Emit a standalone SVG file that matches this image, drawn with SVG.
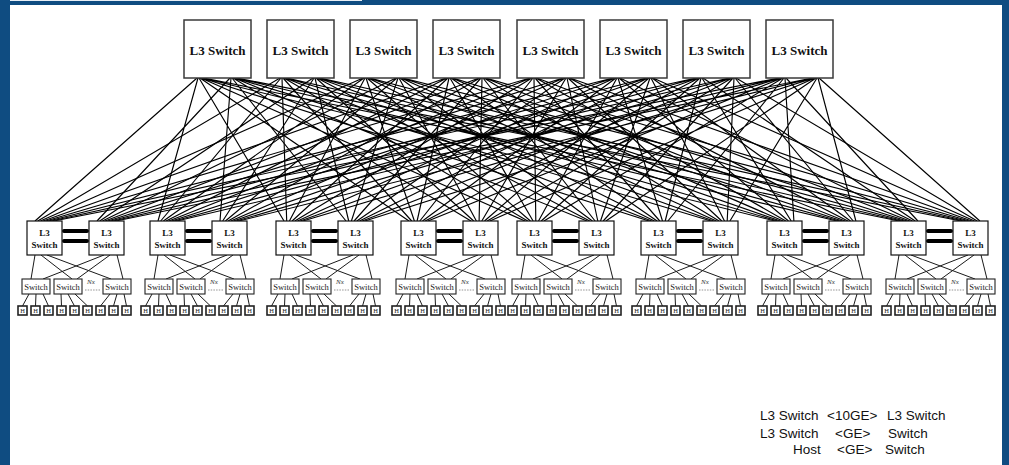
<svg xmlns="http://www.w3.org/2000/svg" xmlns:xlink="http://www.w3.org/1999/xlink" width="1009" height="465" viewBox="0 0 1009 465">
<style>
.tb{fill:#fff;stroke:#3a3a3a;stroke-width:1.5}
.tt{font-family:"Liberation Serif",serif;font-weight:bold;font-size:13px;fill:#111;text-anchor:middle}
.pb{fill:#fff;stroke:#111;stroke-width:1.2}
.pt{font-family:"Liberation Serif",serif;font-weight:bold;font-size:9px;fill:#111;text-anchor:middle}
.sb{fill:#fff;stroke:#222;stroke-width:1.1}
.st{font-family:"Liberation Serif",serif;font-size:8.5px;fill:#222;text-anchor:middle}
.hb{fill:#fff;stroke:#222;stroke-width:1.6}
.ht{font-family:"Liberation Serif",serif;font-size:6.5px;fill:#222;text-anchor:middle}
.nx{font-family:"Liberation Serif",serif;font-style:italic;font-size:7px;fill:#333}
.dash{stroke:#666;stroke-width:0.7;stroke-dasharray:1.5 1.2}
.mesh{fill:none;stroke:#000;stroke-width:1.15}
.pl{fill:none;stroke:#1a1a1a;stroke-width:1}
.bar{fill:none;stroke:#000;stroke-width:4;stroke-linecap:round}
.lg{font-family:"Liberation Sans",Arial,sans-serif;font-size:13.5px;fill:#111}
</style>
<defs>
<g id="podlinks">
<path class="pl" d="M8 255L4 279M14 255L45 279M20 255L84 279M77 255L16 279M83 255L50 279M90 255L96 279M2 294L-4.5 306M9 294L8.5 306M16 294L21.5 306M34 294L34.5 306M41 294L47.5 306M48 294L60.5 306M83 294L73.5 306M90 294L86.5 306M97 294L99.5 306"/>
<path class="bar" d="M37 231H60M37 241H60"/>
</g>
</defs>
<rect width="1009" height="465" fill="#fff"/>
<g id="frame">
<rect x="0" y="0" width="1009" height="5" fill="#0f4c81"/>
<rect x="10" y="0" width="352" height="1" fill="#e8eef5"/>
<rect x="0" y="0" width="10" height="465" fill="#0f4c81"/>
<rect x="1002" y="0" width="7" height="465" fill="#0f4c81"/>
</g>
<g id="connectors">
<path class="mesh" d="M197 78L35 221M198 78L158 221M199 78L284 221M200 78L409 221M201 78L525 221M202 78L649 221M203 78L775 221M204 78L899 221M230 78L97 221M231 78L220 221M232 78L346 221M233 78L471 221M234 78L587 221M235 78L711 221M236 78L837 221M237 78L961 221"/>
<path class="mesh" d="M280 78L37.7 221M281 78L160.7 221M282 78L286.7 221M283 78L411.7 221M284 78L527.7 221M285 78L651.7 221M286 78L777.7 221M287 78L901.7 221M313 78L99.7 221M314 78L222.7 221M315 78L348.7 221M316 78L473.7 221M317 78L589.7 221M318 78L713.7 221M319 78L839.7 221M320 78L963.7 221"/>
<path class="mesh" d="M363 78L40.4 221M364 78L163.4 221M365 78L289.4 221M366 78L414.4 221M367 78L530.4 221M368 78L654.4 221M369 78L780.4 221M370 78L904.4 221M396 78L102.4 221M397 78L225.4 221M398 78L351.4 221M399 78L476.4 221M400 78L592.4 221M401 78L716.4 221M402 78L842.4 221M403 78L966.4 221"/>
<path class="mesh" d="M446 78L43.1 221M447 78L166.1 221M448 78L292.1 221M449 78L417.1 221M450 78L533.1 221M451 78L657.1 221M452 78L783.1 221M453 78L907.1 221M479 78L105.1 221M480 78L228.1 221M481 78L354.1 221M482 78L479.1 221M483 78L595.1 221M484 78L719.1 221M485 78L845.1 221M486 78L969.1 221"/>
<path class="mesh" d="M530 78L45.8 221M531 78L168.8 221M532 78L294.8 221M533 78L419.8 221M534 78L535.8 221M535 78L659.8 221M536 78L785.8 221M537 78L909.8 221M563 78L107.8 221M564 78L230.8 221M565 78L356.8 221M566 78L481.8 221M567 78L597.8 221M568 78L721.8 221M569 78L847.8 221M570 78L971.8 221"/>
<path class="mesh" d="M613 78L48.5 221M614 78L171.5 221M615 78L297.5 221M616 78L422.5 221M617 78L538.5 221M618 78L662.5 221M619 78L788.5 221M620 78L912.5 221M646 78L110.5 221M647 78L233.5 221M648 78L359.5 221M649 78L484.5 221M650 78L600.5 221M651 78L724.5 221M652 78L850.5 221M653 78L974.5 221"/>
<path class="mesh" d="M696 78L51.2 221M697 78L174.2 221M698 78L300.2 221M699 78L425.2 221M700 78L541.2 221M701 78L665.2 221M702 78L791.2 221M703 78L915.2 221M729 78L113.2 221M730 78L236.2 221M731 78L362.2 221M732 78L487.2 221M733 78L603.2 221M734 78L727.2 221M735 78L853.2 221M736 78L977.2 221"/>
<path class="mesh" d="M779 78L53.9 221M780 78L176.9 221M781 78L302.9 221M782 78L427.9 221M783 78L543.9 221M784 78L667.9 221M785 78L793.9 221M786 78L917.9 221M812 78L115.9 221M813 78L238.9 221M814 78L364.9 221M815 78L489.9 221M816 78L605.9 221M817 78L729.9 221M818 78L855.9 221M819 78L979.9 221"/>
<use xlink:href="#podlinks" href="#podlinks" x="27"/>
<use xlink:href="#podlinks" href="#podlinks" x="150"/>
<use xlink:href="#podlinks" href="#podlinks" x="276"/>
<use xlink:href="#podlinks" href="#podlinks" x="401"/>
<use xlink:href="#podlinks" href="#podlinks" x="517"/>
<use xlink:href="#podlinks" href="#podlinks" x="641"/>
<use xlink:href="#podlinks" href="#podlinks" x="767"/>
<use xlink:href="#podlinks" href="#podlinks" x="891"/>
</g>
<g id="top-switches">
<g id="t1"><rect class="tb" x="184" y="20" width="67" height="58"/><text class="tt" x="217.5" y="55">L3 Switch</text></g>
<g id="t2"><rect class="tb" x="267" y="20" width="67" height="58"/><text class="tt" x="300.5" y="55">L3 Switch</text></g>
<g id="t3"><rect class="tb" x="350" y="20" width="67" height="58"/><text class="tt" x="383.5" y="55">L3 Switch</text></g>
<g id="t4"><rect class="tb" x="433" y="20" width="67" height="58"/><text class="tt" x="466.5" y="55">L3 Switch</text></g>
<g id="t5"><rect class="tb" x="517" y="20" width="67" height="58"/><text class="tt" x="550.5" y="55">L3 Switch</text></g>
<g id="t6"><rect class="tb" x="600" y="20" width="67" height="58"/><text class="tt" x="633.5" y="55">L3 Switch</text></g>
<g id="t7"><rect class="tb" x="683" y="20" width="67" height="58"/><text class="tt" x="716.5" y="55">L3 Switch</text></g>
<g id="t8"><rect class="tb" x="766" y="20" width="67" height="58"/><text class="tt" x="799.5" y="55">L3 Switch</text></g>
</g>
<g id="pod-l3">
<g id="p1a"><rect class="pb" x="27" y="221" width="35" height="34"/><text class="pt" x="44.5" y="236">L3</text><text class="pt" x="44.5" y="248">Switch</text></g>
<g id="p1b"><rect class="pb" x="89" y="221" width="35" height="34"/><text class="pt" x="106.5" y="236">L3</text><text class="pt" x="106.5" y="248">Switch</text></g>
<g id="p2a"><rect class="pb" x="150" y="221" width="35" height="34"/><text class="pt" x="167.5" y="236">L3</text><text class="pt" x="167.5" y="248">Switch</text></g>
<g id="p2b"><rect class="pb" x="212" y="221" width="35" height="34"/><text class="pt" x="229.5" y="236">L3</text><text class="pt" x="229.5" y="248">Switch</text></g>
<g id="p3a"><rect class="pb" x="276" y="221" width="35" height="34"/><text class="pt" x="293.5" y="236">L3</text><text class="pt" x="293.5" y="248">Switch</text></g>
<g id="p3b"><rect class="pb" x="338" y="221" width="35" height="34"/><text class="pt" x="355.5" y="236">L3</text><text class="pt" x="355.5" y="248">Switch</text></g>
<g id="p4a"><rect class="pb" x="401" y="221" width="35" height="34"/><text class="pt" x="418.5" y="236">L3</text><text class="pt" x="418.5" y="248">Switch</text></g>
<g id="p4b"><rect class="pb" x="463" y="221" width="35" height="34"/><text class="pt" x="480.5" y="236">L3</text><text class="pt" x="480.5" y="248">Switch</text></g>
<g id="p5a"><rect class="pb" x="517" y="221" width="35" height="34"/><text class="pt" x="534.5" y="236">L3</text><text class="pt" x="534.5" y="248">Switch</text></g>
<g id="p5b"><rect class="pb" x="579" y="221" width="35" height="34"/><text class="pt" x="596.5" y="236">L3</text><text class="pt" x="596.5" y="248">Switch</text></g>
<g id="p6a"><rect class="pb" x="641" y="221" width="35" height="34"/><text class="pt" x="658.5" y="236">L3</text><text class="pt" x="658.5" y="248">Switch</text></g>
<g id="p6b"><rect class="pb" x="703" y="221" width="35" height="34"/><text class="pt" x="720.5" y="236">L3</text><text class="pt" x="720.5" y="248">Switch</text></g>
<g id="p7a"><rect class="pb" x="767" y="221" width="35" height="34"/><text class="pt" x="784.5" y="236">L3</text><text class="pt" x="784.5" y="248">Switch</text></g>
<g id="p7b"><rect class="pb" x="829" y="221" width="35" height="34"/><text class="pt" x="846.5" y="236">L3</text><text class="pt" x="846.5" y="248">Switch</text></g>
<g id="p8a"><rect class="pb" x="891" y="221" width="35" height="34"/><text class="pt" x="908.5" y="236">L3</text><text class="pt" x="908.5" y="248">Switch</text></g>
<g id="p8b"><rect class="pb" x="953" y="221" width="35" height="34"/><text class="pt" x="970.5" y="236">L3</text><text class="pt" x="970.5" y="248">Switch</text></g>
</g>
<g id="access-switches">
<g id="s1-1"><rect class="sb" x="22" y="279" width="28" height="15"/><text class="st" x="36" y="290">Switch</text></g>
<g id="s1-2"><rect class="sb" x="54" y="279" width="28" height="15"/><text class="st" x="68" y="290">Switch</text></g>
<g id="s1-n"><rect class="sb" x="103" y="279" width="28" height="15"/><text class="st" x="117" y="290">Switch</text></g>
<g id="s2-1"><rect class="sb" x="145" y="279" width="28" height="15"/><text class="st" x="159" y="290">Switch</text></g>
<g id="s2-2"><rect class="sb" x="177" y="279" width="28" height="15"/><text class="st" x="191" y="290">Switch</text></g>
<g id="s2-n"><rect class="sb" x="226" y="279" width="28" height="15"/><text class="st" x="240" y="290">Switch</text></g>
<g id="s3-1"><rect class="sb" x="271" y="279" width="28" height="15"/><text class="st" x="285" y="290">Switch</text></g>
<g id="s3-2"><rect class="sb" x="303" y="279" width="28" height="15"/><text class="st" x="317" y="290">Switch</text></g>
<g id="s3-n"><rect class="sb" x="352" y="279" width="28" height="15"/><text class="st" x="366" y="290">Switch</text></g>
<g id="s4-1"><rect class="sb" x="396" y="279" width="28" height="15"/><text class="st" x="410" y="290">Switch</text></g>
<g id="s4-2"><rect class="sb" x="428" y="279" width="28" height="15"/><text class="st" x="442" y="290">Switch</text></g>
<g id="s4-n"><rect class="sb" x="477" y="279" width="28" height="15"/><text class="st" x="491" y="290">Switch</text></g>
<g id="s5-1"><rect class="sb" x="512" y="279" width="28" height="15"/><text class="st" x="526" y="290">Switch</text></g>
<g id="s5-2"><rect class="sb" x="544" y="279" width="28" height="15"/><text class="st" x="558" y="290">Switch</text></g>
<g id="s5-n"><rect class="sb" x="593" y="279" width="28" height="15"/><text class="st" x="607" y="290">Switch</text></g>
<g id="s6-1"><rect class="sb" x="636" y="279" width="28" height="15"/><text class="st" x="650" y="290">Switch</text></g>
<g id="s6-2"><rect class="sb" x="668" y="279" width="28" height="15"/><text class="st" x="682" y="290">Switch</text></g>
<g id="s6-n"><rect class="sb" x="717" y="279" width="28" height="15"/><text class="st" x="731" y="290">Switch</text></g>
<g id="s7-1"><rect class="sb" x="762" y="279" width="28" height="15"/><text class="st" x="776" y="290">Switch</text></g>
<g id="s7-2"><rect class="sb" x="794" y="279" width="28" height="15"/><text class="st" x="808" y="290">Switch</text></g>
<g id="s7-n"><rect class="sb" x="843" y="279" width="28" height="15"/><text class="st" x="857" y="290">Switch</text></g>
<g id="s8-1"><rect class="sb" x="886" y="279" width="28" height="15"/><text class="st" x="900" y="290">Switch</text></g>
<g id="s8-2"><rect class="sb" x="918" y="279" width="28" height="15"/><text class="st" x="932" y="290">Switch</text></g>
<g id="s8-n"><rect class="sb" x="967" y="279" width="28" height="15"/><text class="st" x="981" y="290">Switch</text></g>
</g>
<g id="ellipses">
<g id="nx1"><text class="nx" x="87" y="284">Nx</text><line class="dash" x1="85" y1="290" x2="100" y2="290"/></g>
<g id="nx2"><text class="nx" x="210" y="284">Nx</text><line class="dash" x1="208" y1="290" x2="223" y2="290"/></g>
<g id="nx3"><text class="nx" x="336" y="284">Nx</text><line class="dash" x1="334" y1="290" x2="349" y2="290"/></g>
<g id="nx4"><text class="nx" x="461" y="284">Nx</text><line class="dash" x1="459" y1="290" x2="474" y2="290"/></g>
<g id="nx5"><text class="nx" x="577" y="284">Nx</text><line class="dash" x1="575" y1="290" x2="590" y2="290"/></g>
<g id="nx6"><text class="nx" x="701" y="284">Nx</text><line class="dash" x1="699" y1="290" x2="714" y2="290"/></g>
<g id="nx7"><text class="nx" x="827" y="284">Nx</text><line class="dash" x1="825" y1="290" x2="840" y2="290"/></g>
<g id="nx8"><text class="nx" x="951" y="284">Nx</text><line class="dash" x1="949" y1="290" x2="964" y2="290"/></g>
</g>
<g id="hosts">
<g id="h1-1"><rect class="hb" x="18" y="306" width="9" height="9"/><text class="ht" x="22.5" y="313">H</text></g>
<g id="h1-2"><rect class="hb" x="31" y="306" width="9" height="9"/><text class="ht" x="35.5" y="313">H</text></g>
<g id="h1-3"><rect class="hb" x="44" y="306" width="9" height="9"/><text class="ht" x="48.5" y="313">H</text></g>
<g id="h1-4"><rect class="hb" x="57" y="306" width="9" height="9"/><text class="ht" x="61.5" y="313">H</text></g>
<g id="h1-5"><rect class="hb" x="70" y="306" width="9" height="9"/><text class="ht" x="74.5" y="313">H</text></g>
<g id="h1-6"><rect class="hb" x="83" y="306" width="9" height="9"/><text class="ht" x="87.5" y="313">H</text></g>
<g id="h1-7"><rect class="hb" x="96" y="306" width="9" height="9"/><text class="ht" x="100.5" y="313">H</text></g>
<g id="h1-8"><rect class="hb" x="109" y="306" width="9" height="9"/><text class="ht" x="113.5" y="313">H</text></g>
<g id="h1-9"><rect class="hb" x="122" y="306" width="9" height="9"/><text class="ht" x="126.5" y="313">H</text></g>
<g id="h2-1"><rect class="hb" x="141" y="306" width="9" height="9"/><text class="ht" x="145.5" y="313">H</text></g>
<g id="h2-2"><rect class="hb" x="154" y="306" width="9" height="9"/><text class="ht" x="158.5" y="313">H</text></g>
<g id="h2-3"><rect class="hb" x="167" y="306" width="9" height="9"/><text class="ht" x="171.5" y="313">H</text></g>
<g id="h2-4"><rect class="hb" x="180" y="306" width="9" height="9"/><text class="ht" x="184.5" y="313">H</text></g>
<g id="h2-5"><rect class="hb" x="193" y="306" width="9" height="9"/><text class="ht" x="197.5" y="313">H</text></g>
<g id="h2-6"><rect class="hb" x="206" y="306" width="9" height="9"/><text class="ht" x="210.5" y="313">H</text></g>
<g id="h2-7"><rect class="hb" x="219" y="306" width="9" height="9"/><text class="ht" x="223.5" y="313">H</text></g>
<g id="h2-8"><rect class="hb" x="232" y="306" width="9" height="9"/><text class="ht" x="236.5" y="313">H</text></g>
<g id="h2-9"><rect class="hb" x="245" y="306" width="9" height="9"/><text class="ht" x="249.5" y="313">H</text></g>
<g id="h3-1"><rect class="hb" x="267" y="306" width="9" height="9"/><text class="ht" x="271.5" y="313">H</text></g>
<g id="h3-2"><rect class="hb" x="280" y="306" width="9" height="9"/><text class="ht" x="284.5" y="313">H</text></g>
<g id="h3-3"><rect class="hb" x="293" y="306" width="9" height="9"/><text class="ht" x="297.5" y="313">H</text></g>
<g id="h3-4"><rect class="hb" x="306" y="306" width="9" height="9"/><text class="ht" x="310.5" y="313">H</text></g>
<g id="h3-5"><rect class="hb" x="319" y="306" width="9" height="9"/><text class="ht" x="323.5" y="313">H</text></g>
<g id="h3-6"><rect class="hb" x="332" y="306" width="9" height="9"/><text class="ht" x="336.5" y="313">H</text></g>
<g id="h3-7"><rect class="hb" x="345" y="306" width="9" height="9"/><text class="ht" x="349.5" y="313">H</text></g>
<g id="h3-8"><rect class="hb" x="358" y="306" width="9" height="9"/><text class="ht" x="362.5" y="313">H</text></g>
<g id="h3-9"><rect class="hb" x="371" y="306" width="9" height="9"/><text class="ht" x="375.5" y="313">H</text></g>
<g id="h4-1"><rect class="hb" x="392" y="306" width="9" height="9"/><text class="ht" x="396.5" y="313">H</text></g>
<g id="h4-2"><rect class="hb" x="405" y="306" width="9" height="9"/><text class="ht" x="409.5" y="313">H</text></g>
<g id="h4-3"><rect class="hb" x="418" y="306" width="9" height="9"/><text class="ht" x="422.5" y="313">H</text></g>
<g id="h4-4"><rect class="hb" x="431" y="306" width="9" height="9"/><text class="ht" x="435.5" y="313">H</text></g>
<g id="h4-5"><rect class="hb" x="444" y="306" width="9" height="9"/><text class="ht" x="448.5" y="313">H</text></g>
<g id="h4-6"><rect class="hb" x="457" y="306" width="9" height="9"/><text class="ht" x="461.5" y="313">H</text></g>
<g id="h4-7"><rect class="hb" x="470" y="306" width="9" height="9"/><text class="ht" x="474.5" y="313">H</text></g>
<g id="h4-8"><rect class="hb" x="483" y="306" width="9" height="9"/><text class="ht" x="487.5" y="313">H</text></g>
<g id="h4-9"><rect class="hb" x="496" y="306" width="9" height="9"/><text class="ht" x="500.5" y="313">H</text></g>
<g id="h5-1"><rect class="hb" x="508" y="306" width="9" height="9"/><text class="ht" x="512.5" y="313">H</text></g>
<g id="h5-2"><rect class="hb" x="521" y="306" width="9" height="9"/><text class="ht" x="525.5" y="313">H</text></g>
<g id="h5-3"><rect class="hb" x="534" y="306" width="9" height="9"/><text class="ht" x="538.5" y="313">H</text></g>
<g id="h5-4"><rect class="hb" x="547" y="306" width="9" height="9"/><text class="ht" x="551.5" y="313">H</text></g>
<g id="h5-5"><rect class="hb" x="560" y="306" width="9" height="9"/><text class="ht" x="564.5" y="313">H</text></g>
<g id="h5-6"><rect class="hb" x="573" y="306" width="9" height="9"/><text class="ht" x="577.5" y="313">H</text></g>
<g id="h5-7"><rect class="hb" x="586" y="306" width="9" height="9"/><text class="ht" x="590.5" y="313">H</text></g>
<g id="h5-8"><rect class="hb" x="599" y="306" width="9" height="9"/><text class="ht" x="603.5" y="313">H</text></g>
<g id="h5-9"><rect class="hb" x="612" y="306" width="9" height="9"/><text class="ht" x="616.5" y="313">H</text></g>
<g id="h6-1"><rect class="hb" x="632" y="306" width="9" height="9"/><text class="ht" x="636.5" y="313">H</text></g>
<g id="h6-2"><rect class="hb" x="645" y="306" width="9" height="9"/><text class="ht" x="649.5" y="313">H</text></g>
<g id="h6-3"><rect class="hb" x="658" y="306" width="9" height="9"/><text class="ht" x="662.5" y="313">H</text></g>
<g id="h6-4"><rect class="hb" x="671" y="306" width="9" height="9"/><text class="ht" x="675.5" y="313">H</text></g>
<g id="h6-5"><rect class="hb" x="684" y="306" width="9" height="9"/><text class="ht" x="688.5" y="313">H</text></g>
<g id="h6-6"><rect class="hb" x="697" y="306" width="9" height="9"/><text class="ht" x="701.5" y="313">H</text></g>
<g id="h6-7"><rect class="hb" x="710" y="306" width="9" height="9"/><text class="ht" x="714.5" y="313">H</text></g>
<g id="h6-8"><rect class="hb" x="723" y="306" width="9" height="9"/><text class="ht" x="727.5" y="313">H</text></g>
<g id="h6-9"><rect class="hb" x="736" y="306" width="9" height="9"/><text class="ht" x="740.5" y="313">H</text></g>
<g id="h7-1"><rect class="hb" x="758" y="306" width="9" height="9"/><text class="ht" x="762.5" y="313">H</text></g>
<g id="h7-2"><rect class="hb" x="771" y="306" width="9" height="9"/><text class="ht" x="775.5" y="313">H</text></g>
<g id="h7-3"><rect class="hb" x="784" y="306" width="9" height="9"/><text class="ht" x="788.5" y="313">H</text></g>
<g id="h7-4"><rect class="hb" x="797" y="306" width="9" height="9"/><text class="ht" x="801.5" y="313">H</text></g>
<g id="h7-5"><rect class="hb" x="810" y="306" width="9" height="9"/><text class="ht" x="814.5" y="313">H</text></g>
<g id="h7-6"><rect class="hb" x="823" y="306" width="9" height="9"/><text class="ht" x="827.5" y="313">H</text></g>
<g id="h7-7"><rect class="hb" x="836" y="306" width="9" height="9"/><text class="ht" x="840.5" y="313">H</text></g>
<g id="h7-8"><rect class="hb" x="849" y="306" width="9" height="9"/><text class="ht" x="853.5" y="313">H</text></g>
<g id="h7-9"><rect class="hb" x="862" y="306" width="9" height="9"/><text class="ht" x="866.5" y="313">H</text></g>
<g id="h8-1"><rect class="hb" x="882" y="306" width="9" height="9"/><text class="ht" x="886.5" y="313">H</text></g>
<g id="h8-2"><rect class="hb" x="895" y="306" width="9" height="9"/><text class="ht" x="899.5" y="313">H</text></g>
<g id="h8-3"><rect class="hb" x="908" y="306" width="9" height="9"/><text class="ht" x="912.5" y="313">H</text></g>
<g id="h8-4"><rect class="hb" x="921" y="306" width="9" height="9"/><text class="ht" x="925.5" y="313">H</text></g>
<g id="h8-5"><rect class="hb" x="934" y="306" width="9" height="9"/><text class="ht" x="938.5" y="313">H</text></g>
<g id="h8-6"><rect class="hb" x="947" y="306" width="9" height="9"/><text class="ht" x="951.5" y="313">H</text></g>
<g id="h8-7"><rect class="hb" x="960" y="306" width="9" height="9"/><text class="ht" x="964.5" y="313">H</text></g>
<g id="h8-8"><rect class="hb" x="973" y="306" width="9" height="9"/><text class="ht" x="977.5" y="313">H</text></g>
<g id="h8-9"><rect class="hb" x="986" y="306" width="9" height="9"/><text class="ht" x="990.5" y="313">H</text></g>
</g>
<g id="legend">
<text class="lg" x="760" y="420">L3 Switch</text><text class="lg" x="827" y="420">&lt;10GE&gt;</text><text class="lg" x="887" y="420">L3 Switch</text>
<text class="lg" x="760" y="438">L3 Switch</text><text class="lg" x="835" y="438">&lt;GE&gt;</text><text class="lg" x="888" y="438">Switch</text>
<text class="lg" x="793" y="454">Host</text><text class="lg" x="837" y="454">&lt;GE&gt;</text><text class="lg" x="885" y="454">Switch</text>
</g>
</svg>
